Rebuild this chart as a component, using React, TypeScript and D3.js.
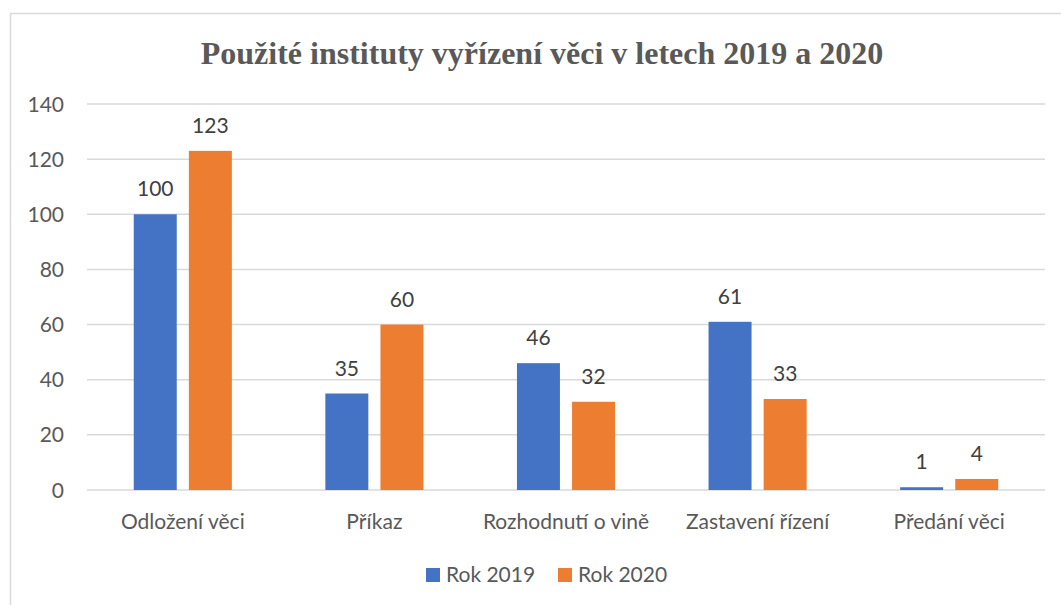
import React from "react";
import * as d3 from "d3";

const categories = ["Odložení věci", "Příkaz", "Rozhodnutí o vině", "Zastavení řízení", "Předání věci"];
const seriesNames = ["Rok 2019", "Rok 2020"];
const values2019 = [100, 35, 46, 61, 1];
const values2020 = [123, 60, 32, 33, 4];
const yTicks = [0, 20, 40, 60, 80, 100, 120, 140];
const colors = ["#4472C4", "#ED7D31"];

const W = 1061, H = 605;
const left = 87, right = 1045, top = 104, bottom = 490;
const FONT = "Lato, 'Open Sans', sans-serif";
const FS = 21;

export default function App() {
  const x = d3.scaleBand<string>().domain(categories).range([left, right]).paddingInner(0).paddingOuter(0);
  const y = d3.scaleLinear().domain([0, 140]).range([bottom, top]);
  const bw0 = x.bandwidth();
  const inner = d3.scaleBand<string>().domain(seriesNames).range([bw0 * 0.244, bw0 * 0.756]).paddingInner(0.22).paddingOuter(0);
  const series = [values2019, values2020];
  return (
    <svg width={W} height={H} style={{ position: "absolute", left: 0, top: 0, background: "#fff" }}>
      <rect x={10.5} y={13.5} width={1100} height={700} fill="#fff" stroke="#d9d9d9" strokeWidth={1.5} />
      <text x={542} y={64} textAnchor="middle" fontFamily="'Liberation Serif', 'Times New Roman', serif" fontWeight="bold" fontSize={32} fill="#595959">
        Použité instituty vyřízení věci v letech 2019 a 2020
      </text>
      {yTicks.map((t) => (
        <g key={t}>
          <line x1={left} x2={right} y1={y(t)} y2={y(t)} stroke="#d9d9d9" strokeWidth={1.5} />
          <text x={64} y={y(t)} dy="0.36em" textAnchor="end" fontFamily={FONT} fontSize={FS} fill="#595959">{t}</text>
        </g>
      ))}
      {categories.map((c, i) => (
        <g key={c}>
          {series.map((vals, s) => {
            const bx = (x(c) as number) + (inner(seriesNames[s]) as number);
            const bw = inner.bandwidth();
            return (
              <g key={s}>
                <rect x={bx} y={y(vals[i])} width={bw} height={bottom - y(vals[i])} fill={colors[s]} />
                <text x={bx + bw / 2} y={y(vals[i]) - 18} textAnchor="middle" fontFamily={FONT} fontSize={FS} fill="#404040">{vals[i]}</text>
              </g>
            );
          })}
          <text x={(x(c) as number) + x.bandwidth() / 2} y={529} textAnchor="middle" fontFamily={FONT} fontSize={FS} fill="#595959">{c}</text>
        </g>
      ))}
      {seriesNames.map((n, s) => {
        const lx = s === 0 ? 426 : 558;
        return (
          <g key={n}>
            <rect x={lx} y={568} width={14} height={14} fill={colors[s]} />
            <text x={lx + 20} y={582} fontFamily={FONT} fontSize={FS} fill="#595959">{n}</text>
          </g>
        );
      })}
    </svg>
  );
}
